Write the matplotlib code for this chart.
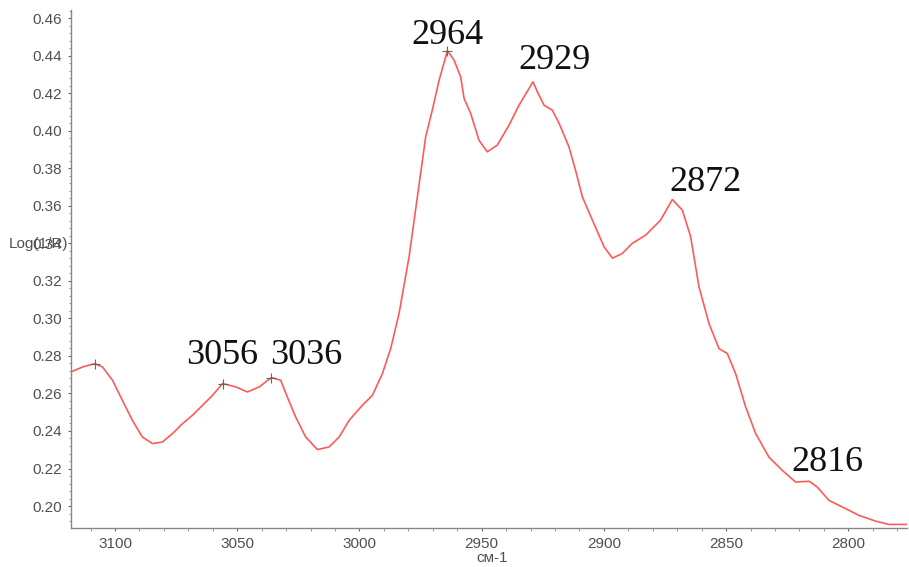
import numpy as np
import matplotlib.pyplot as plt
from matplotlib.ticker import MultipleLocator, FormatStrFormatter

# spectrum, wavenumber (cm-1) vs Log(1/R)
wavenumber = [3118, 3113.3, 3108.3, 3105.1, 3101.0, 3097.0, 3092.9, 3088.8, 3084.7,
              3080.6, 3076.5, 3072.4, 3068.3, 3064.2, 3060.1, 3056, 3050.6, 3045.8,
              3041.0, 3036, 3032.2, 3029.5, 3026.1, 3022.0, 3017.2, 3012.4, 3008.3,
              3004.2, 2998.8, 2994.7, 2990.6, 2987.2, 2983.8, 2979.7, 2976.3, 2972.9,
              2970.2, 2967.4, 2964, 2961.3, 2958.6, 2957.2, 2954.5, 2951.1, 2947.7,
              2943.6, 2938.8, 2934.7, 2929, 2927.2, 2924.5, 2921.1, 2918.3, 2914.3,
              2911.6, 2908.8, 2904.7, 2899.9, 2896.5, 2892.5, 2888.4, 2882.9, 2876.8,
              2872, 2867.9, 2864.5, 2861.1, 2857.0, 2852.9, 2849.5, 2846.1, 2842.0,
              2837.9, 2832.5, 2827.0, 2821.6, 2816, 2812.7, 2807.9, 2802.5, 2795.6,
              2788.9, 2783.4, 2776]
log_inv_r = [0.2715, 0.2741, 0.2759, 0.2741, 0.2670, 0.2564, 0.2457, 0.2368, 0.2333,
             0.2341, 0.2386, 0.2439, 0.2484, 0.2537, 0.2590, 0.2653, 0.2635, 0.2608,
             0.2635, 0.2685, 0.2670, 0.2581, 0.2475, 0.2368, 0.2301, 0.2315, 0.2368,
             0.2457, 0.2537, 0.2590, 0.2706, 0.2840, 0.3026, 0.3328, 0.3648, 0.3968,
             0.4110, 0.4270, 0.4427, 0.4377, 0.4288, 0.4173, 0.4093, 0.3950, 0.3888,
             0.3924, 0.4030, 0.4137, 0.4261, 0.4208, 0.4137, 0.4110, 0.4039, 0.3915,
             0.3790, 0.3648, 0.3524, 0.3381, 0.3321, 0.3346, 0.3400, 0.3444, 0.3524,
             0.3634, 0.3577, 0.3435, 0.3168, 0.2973, 0.2839, 0.2813, 0.2705, 0.2528,
             0.2386, 0.2261, 0.2190, 0.2128, 0.2132, 0.2101, 0.2030, 0.1995, 0.1950,
             0.1920, 0.1902, 0.1902]

marked = [3108.3, 3056, 3036, 2964]
peak_labels = ["2964", "2929", "2872", "3056", "3036", "2816"]
peak_positions = [2964, 2929, 2872, 3056, 3036, 2816]
label_offsets = [(0, 15), (22, 21), (33, 17), (0, 28), (35, 22), (18, 19)]

fig = plt.figure(figsize=(9.09, 5.67), dpi=100)
ax = fig.add_axes([0.0781, 0.0688, 0.9197, 0.9136])

ax.plot(wavenumber, log_inv_r, color="#ff5a5a", lw=1.2)

# small cross marks on picked peaks
ax.plot(marked, np.interp(marked, wavenumber[::-1], log_inv_r[::-1]),
        ls="none", marker="+", ms=7, mew=0.8, color="#666666")

for lab, pos, off in zip(peak_labels, peak_positions, label_offsets):
    yv = np.interp(pos, wavenumber[::-1], log_inv_r[::-1])
    ax.annotate(lab, (pos, yv), xytext=off, textcoords="offset pixels",
                ha="center", va="center", fontsize=26,
                family="Liberation Serif", color="#111111")

ax.set_xlim(3118, 2776)
ax.set_ylim(0.1883, 0.4644)

ax.xaxis.set_major_locator(MultipleLocator(50))
ax.xaxis.set_minor_locator(MultipleLocator(10))
ax.yaxis.set_major_locator(MultipleLocator(0.02))
ax.yaxis.set_minor_locator(MultipleLocator(0.004))
ax.yaxis.set_major_formatter(FormatStrFormatter("%.2f"))

for side in ["top", "right"]:
    ax.spines[side].set_visible(False)
for side in ["left", "bottom"]:
    ax.spines[side].set_color("#888888")
    ax.spines[side].set_linewidth(1.0)

ax.tick_params(which="major", length=2.5, width=0.8, color="#666666",
               labelsize=11, labelcolor="#505050", pad=4)
ax.tick_params(which="minor", length=1.8, width=0.6, color="#888888")
for t in ax.get_xticklabels() + ax.get_yticklabels():
    t.set_family("Liberation Sans")

fig.text(9 / 909, 1 - 244 / 567, "Log(1/R)", fontsize=11, color="#505050",
         family="Liberation Sans", ha="left", va="center")
fig.text(492 / 909, 1 - 558 / 567, "см-1", fontsize=11, color="#505050",
         family="Liberation Sans", ha="center", va="center")

fig.savefig("out.png", dpi=100)
